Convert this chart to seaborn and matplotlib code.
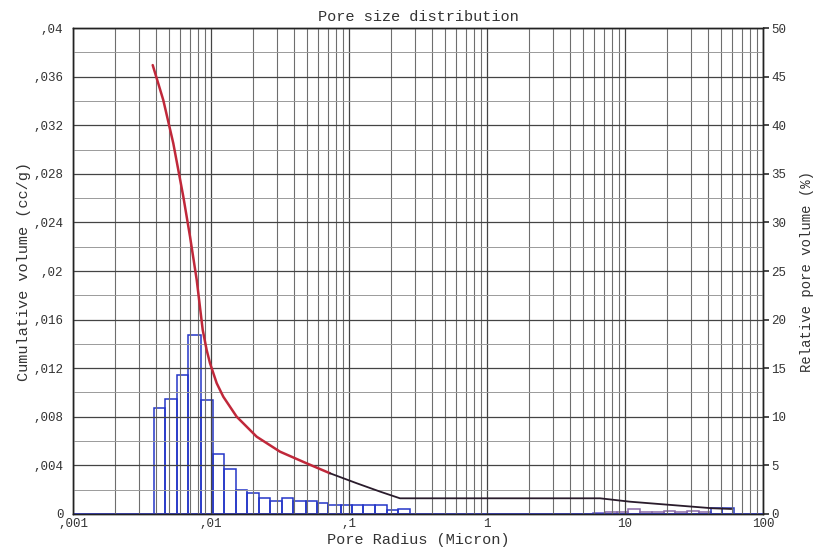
import numpy as np
import pandas as pd
import seaborn as sns
import matplotlib.pyplot as plt
from matplotlib.ticker import FixedLocator, FixedFormatter, FuncFormatter, LogLocator, NullFormatter

# Relative pore volume histogram (%), bins given by their radius edges (micron)
bin_edges_main = [0.00386, 0.00465, 0.00564, 0.00685, 0.00842, 0.0103, 0.0124, 0.0152,
                  0.0183, 0.0223, 0.0268, 0.0325, 0.0395, 0.0485, 0.0589, 0.0708,
                  0.0871, 0.105, 0.127, 0.154, 0.188, 0.228, 0.277]
rel_vol_main = [10.9, 11.8, 14.3, 18.4, 11.7, 6.2, 4.6, 2.5, 2.2, 1.6, 1.3,
                1.6, 1.3, 1.3, 1.1, 0.9, 0.9, 0.9, 0.9, 0.9, 0.4, 0.5]

bin_edges_tail = [5.91, 7.19, 8.75, 10.6, 12.9, 15.7, 19.1, 23.2, 28.2, 34.4, 41.7, 50.7, 61.7]
rel_vol_tail = [0.15, 0.25, 0.2, 0.5, 0.2, 0.25, 0.3, 0.25, 0.3, 0.2, 0.6, 0.65]
tail_colors = ["#6a5acd", "#8a6aa8", "#8a6aa8", "#8a6aa8", "#8a6aa8", "#8a6aa8",
               "#8a6aa8", "#8a6aa8", "#8a6aa8", "#8a6aa8", "#2a3ac0", "#2a3ac0"]

# Cumulative volume curve (cc/g)
radius = [0.00378, 0.00451, 0.00533, 0.00630, 0.00705, 0.00788, 0.00871, 0.00930,
          0.00984, 0.0110, 0.01228, 0.01534, 0.02143, 0.0316, 0.0493, 0.0728,
          0.1137, 0.168, 0.234, 2.0, 6.6, 10.9, 43.0, 59.0]
cum_vol = [0.03695, 0.03407, 0.03051, 0.02612, 0.02282, 0.01926, 0.01514, 0.0135,
           0.0124, 0.01076, 0.00965, 0.00801, 0.00636, 0.00513, 0.00417, 0.00335,
           0.00253, 0.00184, 0.00129, 0.00129, 0.00129, 0.00101, 0.00047, 0.00041]

x_ticks = [0.001, 0.01, 0.1, 1, 10, 100]
x_labels = [",001", ",01", ",1", "1", "10", "100"]

sns.set_theme(style="white")
plt.rcParams['font.family'] = ['Liberation Mono', 'DejaVu Sans Mono']

fig = plt.figure(figsize=(8.13, 5.5), dpi=100)
ax = fig.add_axes([0.0898, 0.0655, 0.8487, 0.8835])
ax2 = ax.twinx()

ax.set_xscale('log')
ax2.set_ylim(0, 50)

def comma_fmt(v, pos):
    if abs(v) < 1e-12:
        return "0"
    s = f"{v:g}"
    if s.startswith("0."):
        s = "," + s[2:]
    return s

# histogram bars (right axis, drawn below the curve axis)
e = np.array(bin_edges_main)
ax2.bar(e[:-1], rel_vol_main, width=np.diff(e), align='edge',
        facecolor='none', edgecolor='#2436c8', lw=1.1, zorder=3)
et = np.array(bin_edges_tail)
ax2.bar(et[:-1], rel_vol_tail, width=np.diff(et), align='edge',
        facecolor='none', edgecolor=tail_colors, lw=1.1, zorder=3)
ax2.axhline(0, color='#3a40c8', lw=1.4, zorder=3)

# cumulative curve (left axis), red then dark
df = pd.DataFrame({"radius": radius, "cum": cum_vol})
sns.lineplot(data=df[df.radius <= 0.0728], x="radius", y="cum", ax=ax,
             color='#c0283a', lw=1.8, sort=True, zorder=5)
sns.lineplot(data=df[df.radius >= 0.0728], x="radius", y="cum", ax=ax,
             color='#2a1c2c', lw=1.3, sort=True, zorder=5)

ax.set_zorder(ax2.get_zorder() + 1)
ax.patch.set_visible(False)
ax2.patch.set_visible(True)
ax2.patch.set_facecolor('white')

# axes, ticks and grid
ax.set_xlim(0.001, 100)
ax.set_ylim(0, 0.04)
ax.xaxis.set_major_locator(FixedLocator(x_ticks))
ax.xaxis.set_major_formatter(FixedFormatter(x_labels))
ax.xaxis.set_minor_locator(LogLocator(base=10, subs=np.arange(2, 10)))
ax.xaxis.set_minor_formatter(NullFormatter())
ax.yaxis.set_major_locator(FixedLocator(np.arange(0, 0.0401, 0.004)))
ax.yaxis.set_minor_locator(FixedLocator(np.arange(0.002, 0.04, 0.004)))
ax.yaxis.set_major_formatter(FuncFormatter(comma_fmt))
ax.grid(which='major', axis='both', color='#444444', lw=0.9)
ax.grid(which='minor', axis='x', color='#6e6e6e', lw=0.8)
ax.grid(which='minor', axis='y', color='#9a9a9a', lw=0.7)
ax.set_axisbelow(True)

ax2.yaxis.set_major_locator(FixedLocator(np.arange(0, 51, 5)))
ax2.grid(False)

for a in (ax, ax2):
    for sp in a.spines.values():
        sp.set_color('#222222')
        sp.set_linewidth(1.0)

ax.tick_params(axis='x', which='both', length=0, labelsize=9, colors='#333333', pad=3)
ax.tick_params(axis='y', which='both', length=0, labelsize=9, colors='#333333', pad=7)
ax2.tick_params(axis='y', which='major', length=4, labelsize=9, colors='#333333', pad=2)
ax2.tick_params(axis='y', which='minor', length=0)

ax.set_xlabel("Pore Radius (Micron)", fontsize=11, color='#333333', labelpad=2)
ax.set_ylabel("Cumulative volume (cc/g)", fontsize=11, color='#333333', labelpad=2)
ax2.set_ylabel("Relative pore volume (%)", fontsize=10, color='#333333', labelpad=10)
ax.set_title("Pore size distribution", fontsize=11, color='#333333', pad=5)

fig.savefig("out.png", dpi=100)
